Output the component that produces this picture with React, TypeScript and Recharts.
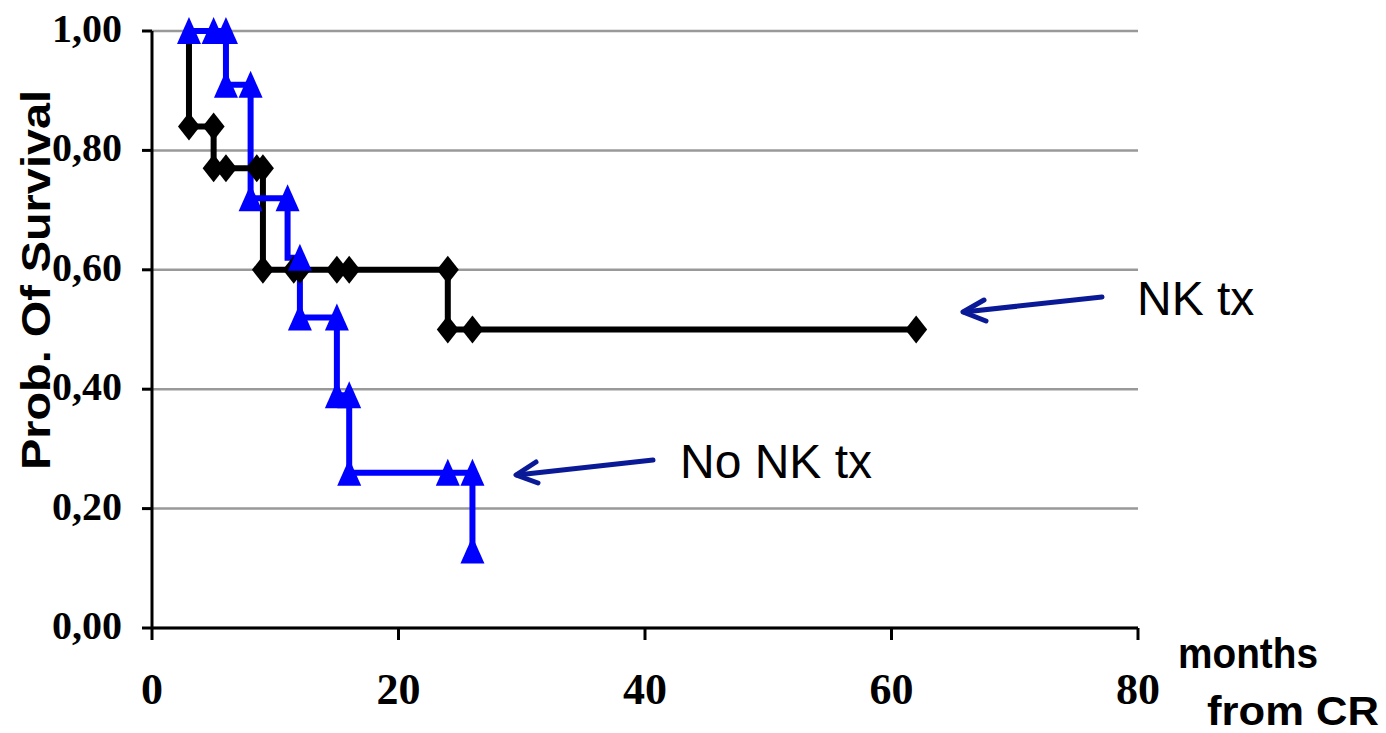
import React from 'react';
import { ComposedChart, Line, Scatter, XAxis, YAxis, CartesianGrid } from 'recharts';

// step curve vertices (months, survival)
const nkPathT = [3, 3, 5, 5, 9, 9, 24, 24, 62];
const nkPathS = [1.0, 0.84, 0.84, 0.77, 0.77, 0.6, 0.6, 0.5, 0.5];
const nkMarkT = [3, 5, 5, 6, 8.5, 9, 9, 11.5, 12, 15, 16, 24, 24, 26, 62];
const nkMarkS = [0.84, 0.84, 0.77, 0.77, 0.77, 0.77, 0.6, 0.6, 0.6, 0.6, 0.6, 0.6, 0.5, 0.5, 0.5];

const noPathT = [3, 6, 6, 8, 8, 11, 11, 12, 12, 15, 15, 16, 16, 26, 26];
const noPathS = [1.0, 1.0, 0.91, 0.91, 0.72, 0.72, 0.62, 0.62, 0.52, 0.52, 0.39, 0.39, 0.26, 0.26, 0.13];
const noMarkT = [3, 5, 6, 6, 8, 8, 11, 12, 12, 15, 15, 16, 16, 24, 26, 26];
const noMarkS = [1.0, 1.0, 1.0, 0.91, 0.91, 0.72, 0.72, 0.62, 0.52, 0.52, 0.39, 0.39, 0.26, 0.26, 0.26, 0.13];

const xTicks = [0, 20, 40, 60, 80];
const yTicks = [0, 0.2, 0.4, 0.6, 0.8, 1.0];

const toPts = (t: number[], s: number[]) => t.map((x, i) => ({ x, y: s[i] }));

const nkPath = toPts(nkPathT, nkPathS);
const nkMarks = toPts(nkMarkT, nkMarkS);
const noPath = toPts(noPathT, noPathS);
const noMarks = toPts(noMarkT, noMarkS);

const arrowBlue = '#0a1a96';

const Diamond = (p: any) => {
    const { cx, cy } = p;
    return <polygon points={`${cx},${cy - 14} ${cx + 11},${cy} ${cx},${cy + 14} ${cx - 11},${cy}`} fill="#000" />;
};

const Triangle = (p: any) => {
    const { cx, cy } = p;
    return <polygon points={`${cx},${cy - 14} ${cx + 12},${cy + 13} ${cx - 12},${cy + 13}`} fill="#0000ff" />;
};

const YTick = (p: any) => (
    <text x={p.x} y={p.y} dy={11} textAnchor="end" fontFamily="'Liberation Serif', serif" fontWeight="bold" fontSize={40} fill="#000">
        {p.payload.value.toFixed(2).replace('.', ',')}
    </text>
);

const XTick = (p: any) => (
    <text x={p.x} y={p.y} dy={62} textAnchor="middle" fontFamily="'Liberation Serif', serif" fontWeight="bold" fontSize={44} fill="#000">
        {p.payload.value}
    </text>
);

export default function App() {
    return (
        <div style={{ position: 'absolute', left: 0, top: 0, width: 1386, height: 733, background: '#fff' }}>
            <ComposedChart width={1386} height={733} margin={{ top: 31, right: 248, left: 0, bottom: 0 }}>
                <CartesianGrid horizontal={true} vertical={false} stroke="#999" strokeWidth={2.5} />
                <XAxis
                    type="number"
                    dataKey="x"
                    domain={[0, 80]}
                    ticks={xTicks}
                    height={105}
                    tickSize={12}
                    tick={<XTick />}
                    axisLine={{ stroke: '#000', strokeWidth: 3 }}
                    tickLine={{ stroke: '#000', strokeWidth: 3 }}
                />
                <YAxis
                    type="number"
                    dataKey="y"
                    domain={[0, 1]}
                    ticks={yTicks}
                    width={152}
                    tickSize={10}
                    tickMargin={20}
                    tick={<YTick />}
                    axisLine={{ stroke: '#000', strokeWidth: 3 }}
                    tickLine={{ stroke: '#000', strokeWidth: 3 }}
                />
                <Line data={nkPath} dataKey="y" type="linear" stroke="#000" strokeWidth={6} dot={false} isAnimationActive={false} />
                <Line data={noPath} dataKey="y" type="linear" stroke="#0000ff" strokeWidth={6} dot={false} isAnimationActive={false} />
                <Scatter data={nkMarks} dataKey="y" shape={Diamond} isAnimationActive={false} />
                <Scatter data={noMarks} dataKey="y" shape={Triangle} isAnimationActive={false} />
            </ComposedChart>
            <svg width={1386} height={733} style={{ position: 'absolute', left: 0, top: 0, pointerEvents: 'none' }}>
                <text transform="translate(50,280) rotate(-90)" textAnchor="middle" fontFamily="'Liberation Sans', Arial, sans-serif" fontWeight="bold" fontSize={40} textLength={380} lengthAdjust="spacingAndGlyphs" fill="#000">
                    Prob. Of Survival
                </text>
                <text x={1178} y={668} fontFamily="'Liberation Sans Narrow', 'Liberation Sans', sans-serif" fontWeight="bold" fontSize={42} textLength={140} lengthAdjust="spacingAndGlyphs" fill="#000">
                    months
                </text>
                <text x={1207} y={725} fontFamily="'Liberation Sans', Arial, sans-serif" fontWeight="bold" fontSize={40} textLength={172} lengthAdjust="spacingAndGlyphs" fill="#000">
                    from CR
                </text>
                <text x={1137} y={315} fontFamily="'Liberation Sans', Arial, sans-serif" fontSize={48} fill="#000">
                    NK tx
                </text>
                <text x={680} y={478} fontFamily="'Liberation Sans', Arial, sans-serif" fontSize={48} fill="#000">
                    No NK tx
                </text>
                <g stroke={arrowBlue} strokeWidth={5} strokeLinecap="round" fill="none">
                    <line x1={1102} y1={297} x2={964} y2={312} />
                    <polyline points="984,300 963,312 986,321" strokeLinejoin="round" />
                    <line x1={653} y1={460} x2={517} y2={475} />
                    <polyline points="536,462 516,475 538,483" strokeLinejoin="round" />
                </g>
            </svg>
        </div>
    );
}
